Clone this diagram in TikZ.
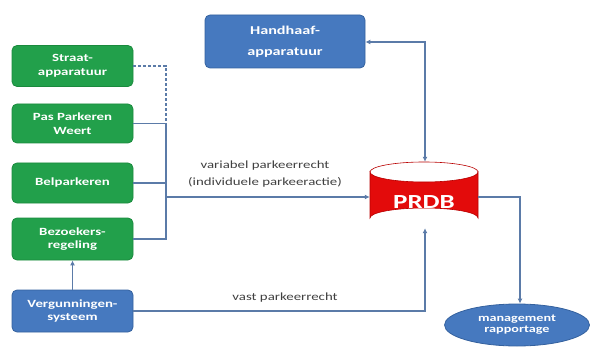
\documentclass[tikz,border=0pt]{standalone}
\usepackage{fontspec}
\setmainfont{Carlito}[FakeStretch=1.35]
\usetikzlibrary{arrows.meta,shapes.geometric}
\definecolor{boxgreen}{HTML}{22A04B}
\definecolor{greenedge}{HTML}{1A8A3D}
\definecolor{boxblue}{HTML}{4679BF}
\definecolor{blueedge}{HTML}{34619E}
\definecolor{dbred}{HTML}{E30B0B}
\definecolor{dbedge}{HTML}{B80000}
\definecolor{wire}{HTML}{5B7BA8}
\definecolor{labelgray}{HTML}{404040}
\begin{document}
\begin{tikzpicture}[x=1pt,y=-1pt,
  box/.style={rounded corners=5pt, line width=0.8pt, text=white, align=center,
    font=\fontsize{11}{13.5}\selectfont\bfseries, inner sep=0pt},
  greenbox/.style={box, fill=boxgreen, draw=greenedge, minimum width=121pt},
  bluebox/.style={box, fill=boxblue, draw=blueedge},
  wireline/.style={draw=wire, line width=1.3pt},
  tip/.style={-{Latex[length=5pt,width=5pt]}},
  lbl/.style={text=labelgray, font=\fontsize{11}{17}\selectfont, align=center}]
\useasboundingbox (0,0) rectangle (593,347);

% source boxes on the left
\node[greenbox, minimum height=41pt] (straat) at (72.5,66) {Straat-\\apparatuur};
\node[greenbox, minimum height=39pt] (pas) at (72.5,123.5) {Pas Parkeren\\Weert};
\node[greenbox, minimum height=40pt] (bel) at (72.5,183) {Belparkeren};
\node[greenbox, minimum height=42pt] (bez) at (72.5,239) {Bezoekers-\\regeling};
\node[bluebox, minimum width=121pt, minimum height=42pt] (verg) at (72.5,311) {Vergunningen-\\systeem};

% enforcement equipment
\node[bluebox, minimum width=160pt, minimum height=53pt,
  font=\fontsize{12}{20}\selectfont\bfseries] (hand) at (285,41.5) {\raisebox{-2pt}{\begin{tabular}{@{}c@{}}Handhaaf-\\[1pt]apparatuur\end{tabular}}};

% database cylinder
\node[minimum width=108pt, minimum height=66pt, inner sep=0pt] (prdb) at (424,195) {};
\fill[dbred, draw=dbedge, line width=0.6pt]
  (370,172) -- (370,218) arc[start angle=180, end angle=360, x radius=54, y radius=10]
  -- (478,172) arc[start angle=0, end angle=180, x radius=54, y radius=10] -- cycle;
\draw[dbedge, line width=0.6pt] (370,172) arc[start angle=180, end angle=360, x radius=54, y radius=10];
\node[text=white, font=\fontsize{20}{24}\selectfont\bfseries] at (424,202) {PRDB};

% reporting
\node[ellipse, fill=boxblue, draw=blueedge, line width=0.8pt, minimum width=145pt,
  minimum height=42pt, inner sep=0pt, text=white, align=center,
  font=\fontsize{10.5}{11}\selectfont\bfseries] (mgmt) at (517,325) {management\\rapportage};

% collecting bus
\coordinate (busTop) at (166,123.5);
\coordinate (busDash) at (166,66);
\coordinate (busBot) at (166,239);
\coordinate (busOut) at (166,197);
\draw[wireline, dashed, dash pattern=on 3pt off 2pt] (straat.east) -- (busDash) -- (busTop);
\draw[wireline] (pas.east) -- (busTop) -- (busBot) -- (bez.east);
\draw[wireline] (bel.east) -- (bel.east -| busTop);
\draw[wireline, tip] (busOut) -- (busOut -| prdb.west);
\node[lbl] at (265,174) {variabel parkeerrecht\\(individuele parkeeractie)};

% permits
\draw[wireline, tip] (verg.north) -- (bez.south);
\coordinate (vergCorner) at (425,311);
\draw[wireline, tip] (verg.east) -- (vergCorner) -- (prdb.south -| vergCorner);
\node[lbl] at (285,298) {vast parkeerrecht};

% enforcement link
\coordinate (handCorner) at (425,42);
\draw[wireline, {Latex[length=5pt,width=5pt]}-{Latex[length=5pt,width=5pt]}]
  (hand.east |- handCorner) -- (handCorner) -- (prdb.north -| handCorner);

% reporting link
\coordinate (repCorner) at (520,197);
\draw[wireline, tip] (prdb.east |- repCorner) -- (repCorner) -- (mgmt.north -| repCorner);
\end{tikzpicture}
\end{document}
